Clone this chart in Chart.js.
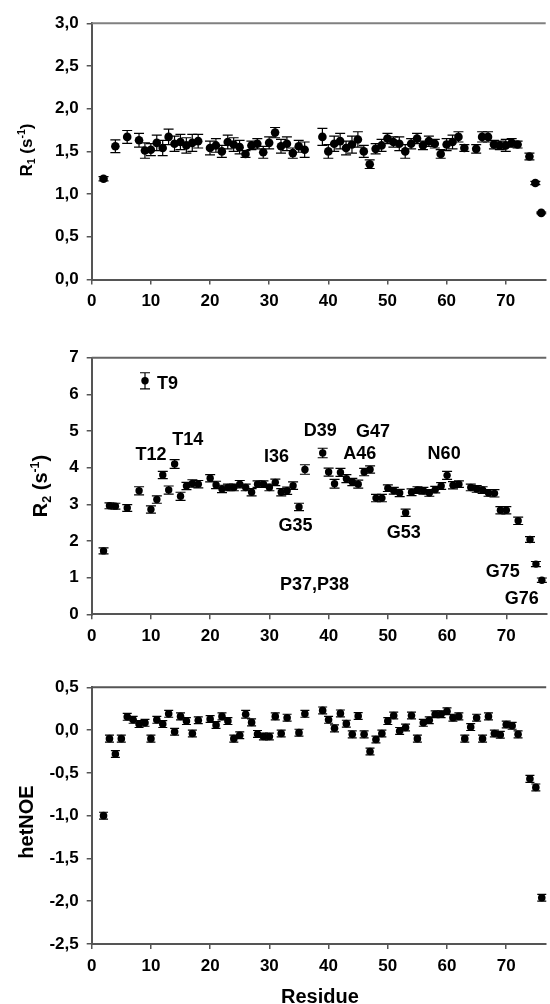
<!DOCTYPE html>
<html>
<head>
<meta charset="utf-8">
<script src="https://cdn.jsdelivr.net/npm/chart.js@4.4.0/dist/chart.umd.min.js"></script>
<style>
  html, body { margin: 0; padding: 0; background: #fff; }
  body { width: 550px; height: 1004px; position: relative; overflow: hidden; }
  .panel { position: absolute; left: 0; width: 550px; }
</style>
</head>
<body>
<div class="panel" style="top:0;height:320px"><canvas id="r1Chart"></canvas></div>
<div class="panel" style="top:320px;height:330px"><canvas id="r2Chart"></canvas></div>
<div class="panel" style="top:650px;height:354px"><canvas id="noeChart"></canvas></div>
<script>
// ---- Data ----
const residueTicks = [0, 10, 20, 30, 40, 50, 60, 70];

// R1
const r1Residues = [2, 4, 6, 8, 9, 10, 11, 12, 13, 14, 15, 16, 17, 18,
  20, 21, 22, 23, 24, 25, 26, 27, 28, 29, 30, 31, 32, 33, 34, 35, 36,
  39, 40, 41, 42, 43, 44, 45, 46, 47, 48, 49, 50, 51, 52, 53, 54, 55, 56, 57, 58, 59, 60, 61, 62, 63,
  65, 66, 67, 68, 69, 70, 71, 72, 74, 75, 76];
const r1Values = [1.18, 1.56, 1.67, 1.63, 1.51, 1.52, 1.60, 1.54, 1.67, 1.59, 1.61, 1.57, 1.60, 1.62,
  1.54, 1.57, 1.50, 1.61, 1.58, 1.55, 1.47, 1.57, 1.59, 1.49, 1.60, 1.72, 1.56, 1.59, 1.48, 1.56, 1.52,
  1.67, 1.50, 1.59, 1.62, 1.54, 1.58, 1.64, 1.50, 1.35, 1.53, 1.57, 1.65, 1.61, 1.59, 1.50, 1.59, 1.65, 1.57, 1.62, 1.59, 1.47, 1.58, 1.61, 1.67, 1.54,
  1.53, 1.67, 1.67, 1.58, 1.57, 1.57, 1.60, 1.58, 1.44, 1.13, 0.78];
const r1Errors = [0.025, 0.075, 0.075, 0.08, 0.09, 0.07, 0.09, 0.09, 0.09, 0.09, 0.09, 0.09, 0.1, 0.08,
  0.08, 0.08, 0.07, 0.08, 0.08, 0.08, 0.04, 0.05, 0.06, 0.07, 0.07, 0.06, 0.08, 0.08, 0.06, 0.07, 0.09,
  0.1, 0.08, 0.09, 0.09, 0.08, 0.1, 0.09, 0.07, 0.05, 0.06, 0.07, 0.06, 0.06, 0.08, 0.08, 0.06, 0.06, 0.05, 0.06, 0.05, 0.05, 0.07, 0.08, 0.06, 0.04,
  0.05, 0.06, 0.06, 0.05, 0.05, 0.07, 0.05, 0.04, 0.04, 0.02, 0.01];
const r1TickValues = [0, 0.5, 1, 1.5, 2, 2.5, 3];
const r1TickLabels = ['0,0', '0,5', '1,0', '1,5', '2,0', '2,5', '3,0'];

// R2
const r2Residues = [2, 3, 4, 6, 8, 9, 10, 11, 12, 13, 14, 15, 16, 17, 18,
  20, 21, 22, 23, 24, 25, 26, 27, 28, 29, 30, 31, 32, 33, 34, 35, 36,
  39, 40, 41, 42, 43, 44, 45, 46, 47, 48, 49, 50, 51, 52, 53, 54, 55, 56, 57, 58, 59, 60, 61, 62,
  64, 65, 66, 67, 68, 69, 70, 72, 74, 75, 76];
const r2Values = [1.73, 2.96, 2.95, 2.90, 3.37, 6.37, 2.86, 3.13, 3.80, 3.39, 4.10, 3.22, 3.50, 3.57, 3.55,
  3.71, 3.53, 3.42, 3.46, 3.46, 3.55, 3.46, 3.33, 3.55, 3.55, 3.46, 3.60, 3.33, 3.37, 3.51, 2.93, 3.95,
  4.40, 3.88, 3.56, 3.87, 3.70, 3.61, 3.55, 3.88, 3.95, 3.17, 3.17, 3.44, 3.37, 3.31, 2.77, 3.33, 3.39, 3.37, 3.31, 3.40, 3.50, 3.79, 3.52, 3.55,
  3.46, 3.42, 3.39, 3.31, 3.30, 2.84, 2.84, 2.55, 2.04, 1.37, 0.93];
const r2Errors = [0.08, 0.08, 0.08, 0.09, 0.11, 0.22, 0.1, 0.1, 0.1, 0.11, 0.12, 0.11, 0.1, 0.1, 0.1,
  0.1, 0.1, 0.1, 0.09, 0.09, 0.1, 0.09, 0.1, 0.09, 0.09, 0.09, 0.09, 0.1, 0.1, 0.1, 0.1, 0.13,
  0.13, 0.11, 0.12, 0.11, 0.11, 0.1, 0.11, 0.1, 0.1, 0.1, 0.1, 0.09, 0.09, 0.1, 0.1, 0.09, 0.09, 0.09, 0.09, 0.09, 0.09, 0.11, 0.1, 0.09,
  0.09, 0.09, 0.09, 0.09, 0.1, 0.1, 0.1, 0.1, 0.08, 0.07, 0.06];
const r2TickValues = [0, 1, 2, 3, 4, 5, 6, 7];
const r2TickLabels = ['0', '1', '2', '3', '4', '5', '6', '7'];

// residue labels in the R2 panel (text and anchor in data units)
const r2NoteTexts = ['T9', 'T12', 'T14', 'I36', 'G35', 'D39', 'G47', 'A46', 'N60', 'G53', 'P37,P38', 'G75', 'G76'];
const r2NoteResidue = [12.8, 10.0, 16.2, 31.2, 34.4, 38.6, 47.5, 45.25, 59.5, 52.7, 37.6, 69.4, 72.6];
const r2NoteValue = [6.27, 4.34, 4.75, 4.28, 2.41, 4.99, 4.98, 4.37, 4.37, 2.21, 0.80, 1.16, 0.41];

// hetNOE
const noeResidues = [2, 3, 4, 5, 6, 7, 8, 9, 10, 11, 12, 13, 14, 15, 16, 17, 18,
  20, 21, 22, 23, 24, 25, 26, 27, 28, 29, 30, 31, 32, 33, 35, 36,
  39, 40, 41, 42, 43, 44, 45, 46, 47, 48, 49, 50, 51, 52, 53, 54, 55, 56, 57, 58, 59, 60,
  61, 62, 63, 64, 65, 66, 67, 68, 69, 70, 71, 72, 74, 75, 76];
const noeValues = [-1.00, -0.10, -0.28, -0.10, 0.155, 0.12, 0.07, 0.085, -0.10, 0.12, 0.07, 0.19, -0.02, 0.16, 0.105, -0.04, 0.115,
  0.13, 0.06, 0.16, 0.105, -0.10, -0.06, 0.185, 0.09, -0.045, -0.075, -0.075, 0.16, -0.04, 0.145, -0.03, 0.19,
  0.23, 0.12, 0.02, 0.195, 0.075, -0.05, 0.165, -0.05, -0.25, -0.11, -0.04, 0.105, 0.17, -0.01, 0.03, 0.17, -0.10, 0.085, 0.115, 0.185, 0.185, 0.22,
  0.145, 0.16, -0.10, 0.035, 0.145, -0.10, 0.16, -0.04, -0.055, 0.065, 0.05, -0.05, -0.57, -0.67, -1.96];
const noeErrors = [0.04, 0.04, 0.04, 0.04, 0.04, 0.04, 0.04, 0.04, 0.04, 0.04, 0.04, 0.04, 0.04, 0.04, 0.04, 0.04, 0.04,
  0.04, 0.04, 0.04, 0.04, 0.04, 0.04, 0.045, 0.04, 0.04, 0.04, 0.04, 0.04, 0.04, 0.04, 0.04, 0.04,
  0.04, 0.04, 0.04, 0.04, 0.04, 0.04, 0.04, 0.04, 0.04, 0.04, 0.04, 0.04, 0.04, 0.04, 0.04, 0.04, 0.04, 0.04, 0.04, 0.04, 0.04, 0.04,
  0.04, 0.04, 0.04, 0.04, 0.04, 0.04, 0.04, 0.04, 0.04, 0.04, 0.04, 0.04, 0.04, 0.04, 0.04];
const noeTickValues = [-2.5, -2, -1.5, -1, -0.5, 0, 0.5];
const noeTickLabels = ['-2,5', '-2,0', '-1,5', '-1,0', '-0,5', '0,0', '0,5'];

// ---- Drawing ----
const FONT = "'Liberation Sans', Arial, Helvetica, sans-serif";
const AXIS = '#555';

// rotated y title with optional sub/superscript pieces
function drawYTitle(ctx, baseX, centerY, parts, size) {
    ctx.save();
    ctx.translate(baseX, centerY);
    ctx.rotate(-Math.PI / 2);
    ctx.fillStyle = '#000';
    ctx.textBaseline = 'alphabetic';
    ctx.textAlign = 'left';
    let total = 0;
    const widths = parts.map(p => {
        ctx.font = 'bold ' + (p.s ? size * 0.62 : size) + 'px ' + FONT;
        const w = ctx.measureText(p.t).width;
        total += w;
        return w;
    });
    let x = -total / 2;
    parts.forEach((p, i) => {
        ctx.font = 'bold ' + (p.s ? size * 0.62 : size) + 'px ' + FONT;
        const dy = p.s === 'sub' ? size * 0.22 : (p.s === 'sup' ? -size * 0.4 : 0);
        ctx.fillText(p.t, x, dy);
        x += widths[i];
    });
    ctx.restore();
}

function makePanel(canvasId, cfg) {
    const points = cfg.residues.map((r, i) => ({ x: r, y: cfg.values[i] }));

    const extras = {
        id: 'extras',
        beforeDatasetsDraw(chart) {
            const { ctx, scales: { x, y } } = chart;
            ctx.save();
            ctx.strokeStyle = '#000';
            ctx.lineWidth = 1.2;
            cfg.residues.forEach((r, i) => {
                const px = x.getPixelForValue(r);
                const top = y.getPixelForValue(cfg.values[i] + cfg.errors[i]);
                const bot = y.getPixelForValue(cfg.values[i] - cfg.errors[i]);
                ctx.beginPath();
                ctx.moveTo(px, top); ctx.lineTo(px, bot);
                ctx.moveTo(px - cfg.cap, top); ctx.lineTo(px + cfg.cap, top);
                ctx.moveTo(px - cfg.cap, bot); ctx.lineTo(px + cfg.cap, bot);
                ctx.stroke();
            });
            ctx.restore();
        },
        afterDraw(chart) {
            const { ctx, chartArea, scales: { x, y } } = chart;
            // top frame line
            ctx.save();
            ctx.strokeStyle = cfg.topColor;
            ctx.lineWidth = 2;
            ctx.beginPath();
            ctx.moveTo(chartArea.left, chartArea.top);
            ctx.lineTo(chartArea.right, chartArea.top);
            ctx.stroke();
            ctx.restore();

            drawYTitle(ctx, cfg.titleX, cfg.titleY, cfg.title, cfg.titleSize);

            if (cfg.notes) {
                ctx.save();
                ctx.fillStyle = '#000';
                ctx.font = 'bold 18px ' + FONT;
                ctx.textAlign = 'center';
                ctx.textBaseline = 'middle';
                cfg.notes.texts.forEach((t, i) => {
                    ctx.fillText(t, x.getPixelForValue(cfg.notes.xs[i]), y.getPixelForValue(cfg.notes.ys[i]));
                });
                ctx.restore();
            }

            if (cfg.xTitle) {
                ctx.save();
                ctx.fillStyle = '#000';
                ctx.font = 'bold 20px ' + FONT;
                ctx.textAlign = 'center';
                ctx.textBaseline = 'alphabetic';
                ctx.fillText(cfg.xTitle, (chartArea.left + chartArea.right) / 2 + 1, chart.height - 1.5);
                ctx.restore();
            }
        }
    };

    return new Chart(document.getElementById(canvasId), {
        type: 'scatter',
        data: {
            datasets: [{
                data: points,
                pointRadius: cfg.radius,
                pointHoverRadius: cfg.radius,
                pointBackgroundColor: '#000',
                pointBorderColor: '#000',
                pointBorderWidth: 0,
                showLine: false,
                clip: false
            }]
        },
        options: {
            responsive: true,
            maintainAspectRatio: false,
            animation: false,
            layout: { padding: { top: cfg.padTop, left: 0, right: 0, bottom: 0 } },
            plugins: { legend: { display: false }, tooltip: { enabled: false } },
            scales: {
                x: {
                    type: 'linear',
                    min: 0,
                    max: 76.75,
                    afterFit: s => { s.height = cfg.xHeight; },
                    afterBuildTicks: s => { s.ticks = residueTicks.map(v => ({ value: v })); },
                    border: { display: true, color: AXIS, width: 2 },
                    grid: { drawOnChartArea: false, drawTicks: true, tickLength: 5, color: AXIS, lineWidth: 1.5 },
                    ticks: {
                        color: '#000',
                        padding: 7,
                        maxRotation: 0,
                        font: { family: FONT, size: 17, weight: 'bold' },
                        callback: v => String(v)
                    }
                },
                y: {
                    min: cfg.yMin,
                    max: cfg.yMax,
                    afterFit: s => { s.width = 91.7; },
                    afterBuildTicks: s => { s.ticks = cfg.tickValues.map(v => ({ value: v })); },
                    border: { display: true, color: AXIS, width: 2 },
                    grid: { drawOnChartArea: false, drawTicks: true, tickLength: 5, color: AXIS, lineWidth: 1.5 },
                    ticks: {
                        color: '#000',
                        padding: 8,
                        font: { family: FONT, size: 17, weight: 'bold' },
                        callback: v => {
                            const k = cfg.tickValues.findIndex(t => Math.abs(t - v) < 1e-9);
                            return k >= 0 ? cfg.tickLabels[k] : '';
                        }
                    }
                }
            }
        },
        plugins: [extras]
    });
}

makePanel('r1Chart', {
    residues: r1Residues, values: r1Values, errors: r1Errors,
    tickValues: r1TickValues, tickLabels: r1TickLabels,
    yMin: 0, yMax: 3, padTop: 23.3, xHeight: 40.5,
    radius: 4.3, cap: 5, topColor: '#808080',
    title: [{ t: 'R' }, { t: '1', s: 'sub' }, { t: ' (s' }, { t: '-1', s: 'sup' }, { t: ')' }],
    titleX: 31.5, titleY: 150, titleSize: 17
});

makePanel('r2Chart', {
    residues: r2Residues, values: r2Values, errors: r2Errors,
    tickValues: r2TickValues, tickLabels: r2TickLabels,
    yMin: 0, yMax: 7, padTop: 37.7, xHeight: 35.7,
    radius: 3.7, cap: 5, topColor: '#666',
    title: [{ t: 'R' }, { t: '2', s: 'sub' }, { t: ' (s' }, { t: '-1', s: 'sup' }, { t: ')' }],
    titleX: 46.5, titleY: 166, titleSize: 20,
    notes: { texts: r2NoteTexts, xs: r2NoteResidue, ys: r2NoteValue }
});

makePanel('noeChart', {
    residues: noeResidues, values: noeValues, errors: noeErrors,
    tickValues: noeTickValues, tickLabels: noeTickLabels,
    yMin: -2.5, yMax: 0.5, padTop: 37.3, xHeight: 60,
    radius: 3.8, cap: 4.5, topColor: '#555',
    title: [{ t: 'hetNOE' }],
    titleX: 33.3, titleY: 172, titleSize: 20,
    xTitle: 'Residue'
});
</script>
</body>
</html>
